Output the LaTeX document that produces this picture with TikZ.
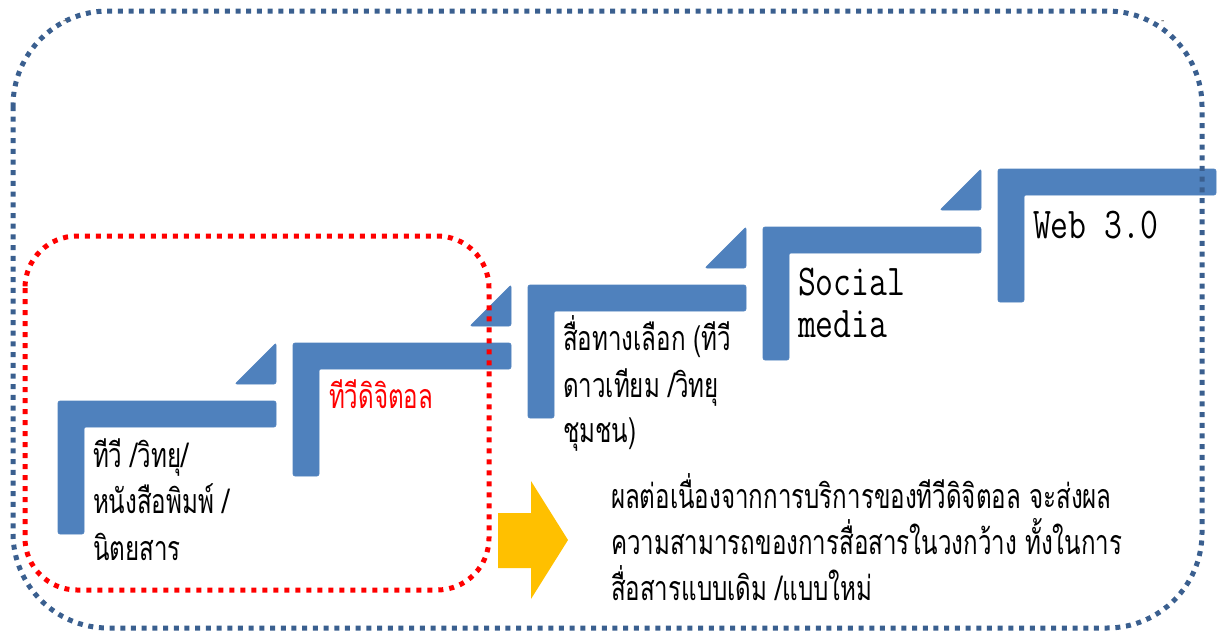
\documentclass[tikz,border=0pt]{standalone}
\usepackage{fontspec}
\newfontfamily\thaifont[Script=Thai]{Loma}
\definecolor{stepblue}{HTML}{4F81BD}
\definecolor{frameblue}{HTML}{3A5F8F}
\definecolor{arrowyellow}{HTML}{FFC000}
\definecolor{redframe}{HTML}{FF0000}
\newcommand{\thaitxt}[1]{\scalebox{0.71}[1]{\thaifont\fontsize{34}{40}\selectfont #1}}
\newcommand{\latintxt}[1]{\scalebox{0.79}[1]{\ttfamily\fontsize{44}{42}\selectfont\begin{tabular}[t]{@{}l@{}}#1\end{tabular}}}
\tikzset{
  stepshape/.style={fill=stepblue, draw=stepblue, line width=0.6pt, rounded corners=2pt},
  thailabel/.style={anchor=base west, inner sep=0pt, outer sep=0pt},
  latinlabel/.style={anchor=base west, inner sep=0pt, outer sep=0pt},
  redbox/.style={draw=redframe, line width=5pt, dash pattern=on 5pt off 6pt, rounded corners=52pt},
  bluebox/.style={draw=frameblue, line width=5pt, dash pattern=on 5pt off 5.7pt, rounded corners=95pt},
  bigarrow/.style={fill=arrowyellow, draw=none}
}
\begin{document}
\begin{tikzpicture}[x=1pt,y=-1pt]
\useasboundingbox (0,0) rectangle (1219,632);
% steps
\foreach \k in {0,...,4}{
  \pgfmathsetmacro{\xo}{58+235*\k}
  \pgfmathsetmacro{\yo}{401-58*\k}
  \path[stepshape] (\xo,\yo) -- (\xo+218,\yo) -- (\xo+218,\yo+26) -- (\xo+26,\yo+26) -- (\xo+26,\yo+133) -- (\xo,\yo+133) -- cycle;
  \ifnum\k<4
    \path[stepshape] (\xo+177,\yo-17) -- (\xo+218,\yo-17) -- (\xo+218,\yo-58) -- cycle;
  \fi
}
% step texts
\node[thailabel] (s1a) at (93,467) {\thaitxt{ทีวี /วิทยุ/}};
\node[thailabel] (s1b) at (93,513) {\thaitxt{หนังสือพิมพ์ /}};
\node[thailabel] (s1c) at (93,560) {\thaitxt{นิตยสาร}};
\node[thailabel, text=redframe] (s2a) at (329,408) {\thaitxt{ทีวีดิจิตอล}};
\node[thailabel] (s3a) at (563,350) {\thaitxt{สื่อทางเลือก (ทีวี}};
\node[thailabel] (s3b) at (563,397) {\thaitxt{ดาวเทียม /วิทยุ}};
\node[thailabel] (s3c) at (563,442) {\thaitxt{ชุมชน)}};
\node[latinlabel] (s4) at (798,295) {\latintxt{Social\\media}};
\node[latinlabel] (s5) at (1033,238) {\latintxt{Web 3.0}};
% yellow arrow
\path[bigarrow] (498,513) -- (531,513) -- (531,481) -- (568,540) -- (531,599) -- (531,568) -- (498,568) -- cycle;
\coordinate (arrowtip) at (568,540);
% result text
\node[thailabel] (r1) at (611,508) {\thaitxt{ผลต่อเนื่องจากการบริการของทีวีดิจิตอล จะส่งผล}};
\node[thailabel] (r2) at (611,554) {\thaitxt{ความสามารถของการสื่อสารในวงกว้าง ทั้งในการ}};
\node[thailabel] (r3) at (611,600) {\thaitxt{สื่อสารแบบเดิม /แบบใหม่}};
% frames
\draw[redbox] (25,236) rectangle (489,590);
\draw[bluebox] (13,11) rectangle (1202,628);
% stray marks
\node[inner sep=0pt] (m1) at (65,22) {\fontsize{10}{10}\selectfont -};
\node[inner sep=0pt] (m2) at (1163,22) {\fontsize{10}{10}\selectfont -};
\end{tikzpicture}
\end{document}
